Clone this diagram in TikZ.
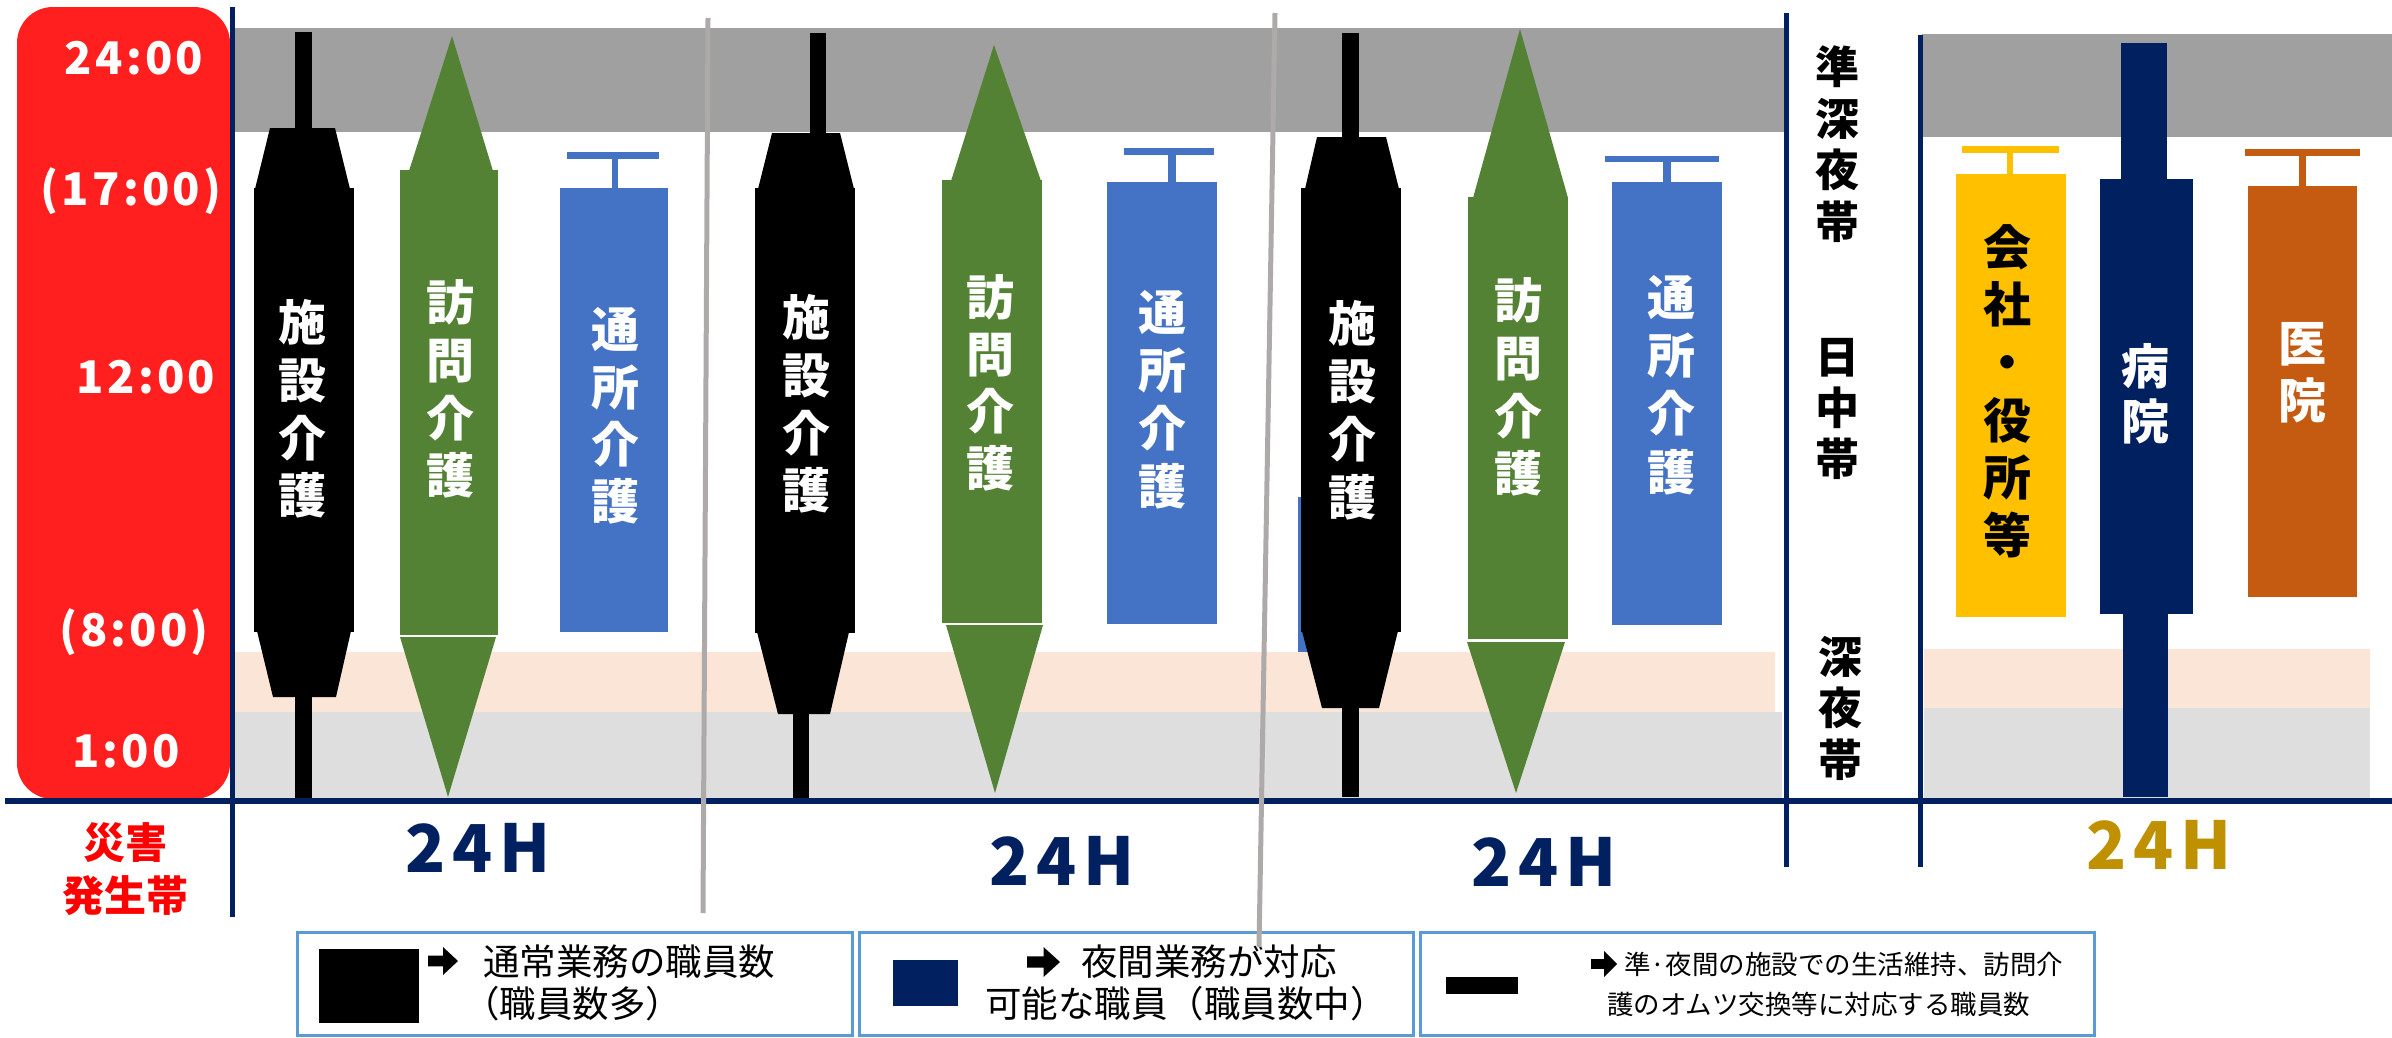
\documentclass[tikz,border=0pt]{standalone}
\usepackage{fontspec}
\newfontfamily\jp{Noto Sans CJK JP}
\newfontfamily\jpsp{Noto Sans CJK JP}[LetterSpace=7]
\newfontfamily\jphh{Noto Sans CJK JP}[LetterSpace=11]
\definecolor{navy}{HTML}{002060}
\definecolor{redbox}{HTML}{FF1F1F}
\definecolor{gold}{HTML}{BF9000}
\definecolor{grn}{HTML}{548235}
\definecolor{blu}{HTML}{4472C4}
\definecolor{yel}{HTML}{FFC000}
\definecolor{org}{HTML}{C55A11}
\definecolor{bandgray}{HTML}{A0A0A0}
\definecolor{peach}{HTML}{FBE5D6}
\definecolor{lgray}{HTML}{DEDEDE}
\definecolor{sepgray}{HTML}{AEAAAA}
\definecolor{lborder}{HTML}{5B9BD5}
\newcommand\vlab[7]{\node[align=center,inner sep=0pt,text=#7,font={\jp\bfseries\fontsize{#5}{#4}\selectfont}] (#1) at (#2,#3) {#6};}
\newcommand\fatarrow[4]{\fill[black] (#1,#3-0.38*#4) -- (#1+0.5*#2-0.5*#1,#3-0.38*#4) -- (#1+0.5*#2-0.5*#1,#3-#4) -- (#2,#3) -- (#1+0.5*#2-0.5*#1,#3+#4) -- (#1+0.5*#2-0.5*#1,#3+0.38*#4) -- (#1,#3+0.38*#4) -- cycle;}
\tikzset{
  timelbl/.style={text=white,inner sep=0pt,font={\jpsp\bfseries\fontsize{45}{50}\selectfont}},
  hlbl/.style={text=navy,inner sep=0pt,font={\jphh\bfseries\fontsize{66}{70}\selectfont}},
  redlbl/.style={text=red,inner sep=0pt,font={\jp\bfseries\fontsize{42}{48}\selectfont}},
  legtext/.style={anchor=west,inner sep=0pt,text=black,font={\jp\fontsize{36.5}{40}\selectfont}},
  legtextsm/.style={anchor=west,inner sep=0pt,text=black,font={\jp\fontsize{26.5}{30}\selectfont}},
  legbox/.style={draw=lborder,line width=3pt},
  navyline/.style={draw=navy,line width=5pt},
  sepline/.style={draw=sepgray,line width=5pt},
}
\begin{document}
\begin{tikzpicture}[x=1pt,y=-1pt]
\useasboundingbox (0,0) rectangle (2392,1037);
% background bands
\fill[bandgray] (232,28) rectangle (1786,132);
\fill[bandgray] (1922,34) rectangle (2392,137);
\fill[peach] (232,652) rectangle (1775,712);
\fill[lgray] (232,712) rectangle (1782,798);
\fill[peach] (1924,649) rectangle (2370,708);
\fill[lgray] (1924,708) rectangle (2370,798);
% red time box
\fill[redbox, rounded corners=36pt] (17,7) rectangle (230,799);
% ---------- group 1
\fill[black] (295,32) rectangle (312,803);
\fill[black] (270,128) -- (335,128) -- (350,189) -- (255,189) -- cycle;
\fill[black] (254,188) rectangle (354,632);
\fill[black] (257,631) -- (351,631) -- (336,697) -- (273,697) -- cycle;
\fill[grn] (409,171) -- (452,36) -- (493,171) -- cycle;
\fill[grn] (400,170) rectangle (498,635);
\fill[grn] (400,637) -- (496,637) -- (448,797) -- cycle;
\fill[blu] (567,152) rectangle (659,159);
\fill[blu] (612,158) rectangle (618,189);
\fill[blu] (560,188) rectangle (668,632);
% ---------- group 2
\fill[black] (810,33) rectangle (826,135);
\fill[black] (772,133) -- (840,133) -- (854,189) -- (758,189) -- cycle;
\fill[black] (755,188) rectangle (855,633);
\fill[black] (757,632) -- (849,632) -- (830,714) -- (778,714) -- cycle;
\fill[black] (793,712) rectangle (809,798);
\fill[grn] (951,181) -- (994,45) -- (1041,181) -- cycle;
\fill[grn] (942,180) rectangle (1042,623);
\fill[grn] (946,625) -- (1043,625) -- (995,793) -- cycle;
\fill[blu] (1124,148) rectangle (1214,155);
\fill[blu] (1168,154) rectangle (1176,183);
\fill[blu] (1107,182) rectangle (1217,624);
% ---------- group 3
\fill[blu] (1298,497) rectangle (1380,652);
\fill[black] (1342,33) rectangle (1359,139);
\fill[black] (1317,137) -- (1386,137) -- (1399,189) -- (1305,189) -- cycle;
\fill[black] (1301,188) rectangle (1401,632);
\fill[black] (1302,631) -- (1398,631) -- (1379,708) -- (1322,708) -- cycle;
\fill[black] (1342,706) rectangle (1359,797);
\fill[grn] (1473,198) -- (1520,29) -- (1568,198) -- cycle;
\fill[grn] (1468,197) rectangle (1568,639);
\fill[grn] (1467,642) -- (1565,642) -- (1516,793) -- cycle;
\fill[blu] (1605,156) rectangle (1719,162);
\fill[blu] (1663,161) rectangle (1671,183);
\fill[blu] (1612,182) rectangle (1722,625);
% ---------- right group
\fill[yel] (1962,146) rectangle (2059,153);
\fill[yel] (2007,152) rectangle (2013,175);
\fill[yel] (1956,174) rectangle (2066,617);
\fill[navy] (2121,43) rectangle (2167,180);
\fill[navy] (2100,179) rectangle (2193,614);
\fill[navy] (2123,613) rectangle (2168,797);
\fill[org] (2245,149) rectangle (2360,156);
\fill[org] (2299,155) rectangle (2306,187);
\fill[org] (2248,186) rectangle (2357,597);
% ---------- bar labels
\vlab{g1a}{302}{409}{57.7}{48}{施\\設\\介\\護}{white}
\vlab{g1b}{450}{389}{57.7}{48}{訪\\問\\介\\護}{white}
\vlab{g1c}{615}{416}{57.3}{48}{通\\所\\介\\護}{white}
\vlab{g2a}{806}{404}{57.7}{48}{施\\設\\介\\護}{white}
\vlab{g2b}{990}{383}{57.0}{48}{訪\\問\\介\\護}{white}
\vlab{g2c}{1162}{400}{58.0}{48}{通\\所\\介\\護}{white}
\vlab{g3a}{1352}{410}{58.0}{48}{施\\設\\介\\護}{white}
\vlab{g3b}{1518}{387}{57.7}{48}{訪\\問\\介\\護}{white}
\vlab{g3c}{1671}{385}{58.3}{48}{通\\所\\介\\護}{white}
\vlab{r1}{2007}{391}{57.6}{48}{会\\社\\・\\役\\所\\等}{black}
\vlab{r2}{2145}{394}{55.0}{48}{病\\院}{white}
\vlab{r3}{2302}{373}{57.0}{48}{医\\院}{white}
\vlab{m1}{1837}{144}{51.7}{44}{準\\深\\夜\\帯}{black}
\vlab{m2}{1837}{409}{51.0}{44}{日\\中\\帯}{black}
\vlab{m3}{1840}{708}{51.5}{44}{深\\夜\\帯}{black}
% ---------- time labels
\node[timelbl] (t1) at (134,58) {24:00};
\node[timelbl] (t2) at (131,191) {(17:00)};
\node[timelbl] (t3) at (146,377) {12:00};
\node[timelbl] (t4) at (134,632) {(8:00)};
\node[timelbl] (t5) at (126,751) {1:00};
\node[redlbl] (d1) at (125,843) {災害};
\node[redlbl] (d2) at (125,896) {発生帯};
% ---------- axes and separators
\draw[navyline] (232,7) -- (232,917);
\draw[navyline] (1786,13) -- (1786,867);
\draw[navyline] (1920,35) -- (1920,867);
\draw[navy, line width=6pt] (5,801) -- (2392,801);
% ---------- 24H labels
\node[hlbl] (h1) at (478,848) {24H};
\node[hlbl] (h2) at (1062,861) {24H};
\node[hlbl] (h3) at (1544,862) {24H};
\node[hlbl, text=gold] (h4) at (2159,845) {24H};
% ---------- legend
\draw[legbox] (297,932) rectangle (852,1035);
\draw[legbox] (859,932) rectangle (1413,1035);
\draw[legbox] (1420,932) rectangle (2094,1035);
\fill[black] (319,949) rectangle (419,1023);
\fatarrow{428}{458}{961}{14}
\node[legtext] (l1a) at (483,962) {通常業務の職員数};
\node[legtext] (l1b) at (463,1004) {（職員数多）};
\fill[navy] (893,960) rectangle (958,1006);
\fatarrow{1027}{1060}{962}{15}
\node[legtext] (l2a) at (1081,962) {夜間業務が対応};
\node[legtext] (l2b) at (985,1004) {可能な職員（職員数中）};
\fill[black] (1446,977) rectangle (1518,994);
\fatarrow{1591}{1617}{964}{13}
\node[legtextsm] (l3a) at (1624,964) {準·夜間の施設での生活維持、訪問介};
\node[legtextsm] (l3b) at (1607,1004) {護のオムツ交換等に対応する職員数};
% ---------- gray separators
\draw[sepline] (708,18) -- (703,913);
\draw[sepline] (1275,13) -- (1259,947);
\end{tikzpicture}
\end{document}
